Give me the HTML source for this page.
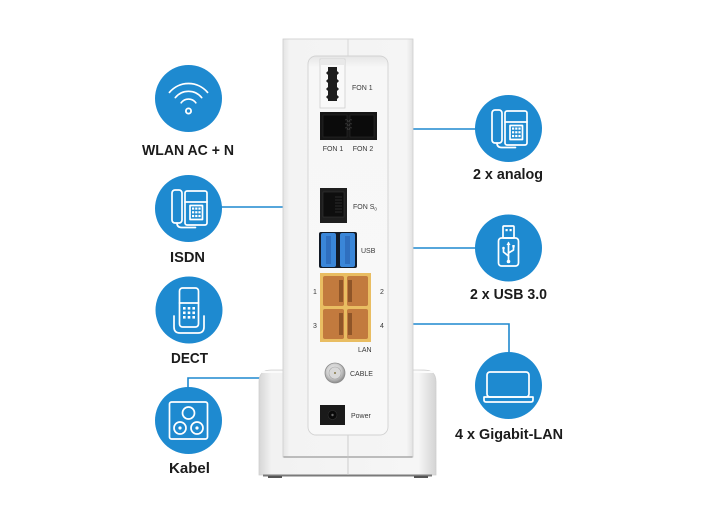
<!DOCTYPE html>
<html>
<head>
<meta charset="utf-8">
<style>
html,body{margin:0;padding:0;background:#fff;}
svg{display:block;}
.lbl{font-family:"Liberation Sans",sans-serif;font-weight:bold;font-size:15px;fill:#1b1b1b;}
.sm{font-family:"Liberation Sans",sans-serif;font-size:7px;fill:#3a3a3a;}
.ic{fill:none;stroke:#fff;stroke-width:1.7;stroke-linecap:round;stroke-linejoin:round;}
</style>
</head>
<body>
<svg width="709" height="516" viewBox="0 0 709 516" xmlns="http://www.w3.org/2000/svg">
<defs>
  <linearGradient id="baseG" x1="0" x2="1" y1="0" y2="0">
    <stop offset="0" stop-color="#d6d6d6"/>
    <stop offset="0.07" stop-color="#f2f2f2"/>
    <stop offset="0.9" stop-color="#f6f6f6"/>
    <stop offset="1" stop-color="#d4d4d4"/>
  </linearGradient>
  <linearGradient id="bodyG" x1="0" x2="1" y1="0" y2="0">
    <stop offset="0" stop-color="#e4e4e4"/>
    <stop offset="0.05" stop-color="#f3f3f3"/>
    <stop offset="0.95" stop-color="#f5f5f5"/>
    <stop offset="1" stop-color="#e2e2e2"/>
  </linearGradient>
  <linearGradient id="panelG" x1="0" x2="0" y1="0" y2="1">
    <stop offset="0" stop-color="#e6e6e6"/>
    <stop offset="0.03" stop-color="#f7f7f7"/>
    <stop offset="1" stop-color="#f8f8f8"/>
  </linearGradient>
  <radialGradient id="coax" cx="0.45" cy="0.4" r="0.6">
    <stop offset="0" stop-color="#f4f4f4"/>
    <stop offset="0.6" stop-color="#cfcfcf"/>
    <stop offset="1" stop-color="#8a8a8a"/>
  </radialGradient>
  <g id="phone">
    <rect class="ic" x="-16.5" y="-18" width="10" height="33" rx="3"/>
    <rect class="ic" x="-3.5" y="-17" width="22" height="34" rx="2"/>
    <line class="ic" x1="-3.5" y1="-6" x2="18.5" y2="-6"/>
    <rect class="ic" x="1.5" y="-2.5" width="12.5" height="14"/>
    <g fill="#fff">
      <rect x="3.5" y="-0.5" width="2.2" height="2.2"/><rect x="6.7" y="-0.5" width="2.2" height="2.2"/><rect x="9.9" y="-0.5" width="2.2" height="2.2"/>
      <rect x="3.5" y="3.2" width="2.2" height="2.2"/><rect x="6.7" y="3.2" width="2.2" height="2.2"/><rect x="9.9" y="3.2" width="2.2" height="2.2"/>
      <rect x="3.5" y="6.9" width="2.2" height="2.2"/><rect x="6.7" y="6.9" width="2.2" height="2.2"/><rect x="9.9" y="6.9" width="2.2" height="2.2"/>
    </g>
    <path class="ic" d="M-11.5,15 Q-11.5,19.5 -7,19.5 L7,19.5"/>
  </g>
</defs>

<!-- connectors -->
<g stroke="#1f88cf" stroke-width="1.6" fill="none">
  <line x1="221" y1="207" x2="284" y2="207"/>
  <line x1="413" y1="129" x2="476" y2="129"/>
  <line x1="413" y1="248" x2="476" y2="248"/>
  <polyline points="413,324 509,324 509,353"/>
  <polyline points="188,388 188,378 264,378"/>
</g>

<!-- base cradle -->
<path d="M259,475 L259,382 Q259,370 271,370 L424,370 Q436,370 436,382 L436,475 Z" fill="url(#baseG)" stroke="#cfcfcf" stroke-width="0.8"/>
<path d="M262,372 L433,372" stroke="#fbfbfb" stroke-width="2"/>
<line x1="263" y1="475.5" x2="432" y2="475.5" stroke="#7a7a7a" stroke-width="2"/>
<rect x="268" y="476" width="14" height="2" fill="#555"/>
<rect x="414" y="476" width="14" height="2" fill="#555"/>

<!-- device body -->
<rect x="283" y="39" width="130" height="418" fill="url(#bodyG)" stroke="#cdcdcd" stroke-width="0.8"/>
<line x1="283.5" y1="457" x2="412.5" y2="457" stroke="#9a9a9a" stroke-width="1.2"/>
<line x1="348" y1="39" x2="348" y2="56" stroke="#d2d2d2" stroke-width="0.8"/>
<line x1="348" y1="435" x2="348" y2="475" stroke="#c4c4c4" stroke-width="0.8"/>

<!-- panel -->
<rect x="308" y="56" width="80" height="379" rx="8" fill="url(#panelG)" stroke="#d2d2d2" stroke-width="0.9"/>

<!-- TAE FON 1 -->
<rect x="320" y="59" width="25" height="49" fill="#f9f9f9" stroke="#cfcfcf" stroke-width="0.8"/>
<rect x="321" y="60" width="23" height="5" fill="#e9e9e9"/>
<path d="M328,67 L337,67 L337,71 L339,73 L337,75 L337,79 L339,81 L337,83 L337,87 L339,89 L337,91 L337,95 L339,97 L337,99 L337,101 L328,101 L328,99 L326,97 L328,95 L328,91 L326,89 L328,87 L328,83 L326,81 L328,79 L328,75 L326,73 L328,71 Z" fill="#1d1d1d"/>
<text class="sm" x="352" y="90">FON 1</text>

<!-- RJ11 pair -->
<rect x="320" y="112" width="57" height="28" fill="#161616"/>
<rect x="323" y="115" width="24" height="22" fill="#0b0b0b" stroke="#2a2a2a" stroke-width="0.6"/>
<rect x="350" y="115" width="24" height="22" fill="#0b0b0b" stroke="#2a2a2a" stroke-width="0.6"/>
<g stroke="#5a5a5a" stroke-width="0.5" fill="none">
  <path d="M345,120 q3,-1 3,2 M345,124 q3,-1 3,2 M345,128 q3,-1 3,2"/>
  <path d="M352,120 q-3,-1 -3,2 M352,124 q-3,-1 -3,2 M352,128 q-3,-1 -3,2"/>
</g>
<text class="sm" x="333" y="151" text-anchor="middle">FON 1</text>
<text class="sm" x="363" y="151" text-anchor="middle">FON 2</text>

<!-- FON S0 -->
<rect x="320" y="188" width="27" height="35" fill="#1e1e1e"/>
<rect x="323" y="192" width="21" height="25" fill="#0e0e0e" stroke="#3a3a3a" stroke-width="0.5"/>
<g stroke="#444" stroke-width="0.5">
  <line x1="335" y1="197" x2="342" y2="197"/><line x1="335" y1="200" x2="342" y2="200"/><line x1="335" y1="203" x2="342" y2="203"/><line x1="335" y1="206" x2="342" y2="206"/><line x1="335" y1="209" x2="342" y2="209"/><line x1="335" y1="212" x2="342" y2="212"/>
</g>
<text class="sm" x="353" y="209">FON S<tspan font-size="4.5" dy="1.5">0</tspan></text>

<!-- USB -->
<rect x="319" y="232" width="38" height="36" rx="2" fill="#121a26"/>
<rect x="321" y="233" width="15" height="34" rx="2" fill="#3a86d8"/>
<rect x="340" y="233" width="15" height="34" rx="2" fill="#3a86d8"/>
<rect x="326" y="236" width="5" height="28" fill="#2f6fbf"/>
<rect x="345" y="236" width="5" height="28" fill="#2f6fbf"/>
<text class="sm" x="361" y="253">USB</text>

<!-- LAN -->
<rect x="320" y="273" width="51" height="69" fill="#e9bd62"/>
<g fill="#c27a3e">
  <rect x="323" y="276" width="21" height="30" rx="2"/>
  <rect x="347" y="276" width="21" height="30" rx="2"/>
  <rect x="323" y="309" width="21" height="30" rx="2"/>
  <rect x="347" y="309" width="21" height="30" rx="2"/>
</g>
<g fill="#8f5528">
  <rect x="339" y="280" width="4" height="22"/>
  <rect x="348" y="280" width="4" height="22"/>
  <rect x="339" y="313" width="4" height="22"/>
  <rect x="348" y="313" width="4" height="22"/>
</g>
<text class="sm" x="313" y="294">1</text>
<text class="sm" x="380" y="294">2</text>
<text class="sm" x="313" y="328">3</text>
<text class="sm" x="380" y="328">4</text>
<text class="sm" x="358" y="352">LAN</text>

<!-- CABLE -->
<circle cx="335" cy="373" r="10" fill="url(#coax)" stroke="#8c8c8c" stroke-width="0.8"/>
<circle cx="335" cy="373" r="6" fill="#d9d9d9" stroke="#a5a5a5" stroke-width="0.6"/>
<circle cx="335" cy="373" r="1" fill="#8a7a4a"/>
<text class="sm" x="350" y="376">CABLE</text>

<!-- Power -->
<rect x="320" y="405" width="25" height="20" fill="#1a1a1a"/>
<circle cx="332.5" cy="415" r="4.5" fill="#0a0a0a" stroke="#333" stroke-width="0.6"/>
<circle cx="332.5" cy="415" r="1.2" fill="#666"/>
<text class="sm" x="351" y="418">Power</text>

<!-- circles -->
<g fill="#1e8ad0">
  <circle cx="188.5" cy="98.5" r="33.5"/>
  <circle cx="188.5" cy="208.5" r="33.5"/>
  <circle cx="189" cy="310" r="33.5"/>
  <circle cx="188.5" cy="420.5" r="33.5"/>
  <circle cx="508.5" cy="128.5" r="33.5"/>
  <circle cx="508.5" cy="248" r="33.5"/>
  <circle cx="508.5" cy="385.5" r="33.5"/>
</g>

<!-- WLAN icon -->
<g class="ic" stroke-width="2.2">
  <path d="M181.2,102.8 A9,9 0 0 1 195.8,102.8"/>
  <path d="M175.3,97.6 A17,17 0 0 1 201.7,97.6"/>
  <path d="M169.4,92.4 A25,25 0 0 1 207.6,92.4"/>
</g>
<circle cx="188.5" cy="111" r="2.6" fill="none" stroke="#fff" stroke-width="1.8"/>

<!-- ISDN & analog phones -->
<use href="#phone" x="188.5" y="208"/>
<use href="#phone" x="508.5" y="128"/>

<!-- DECT icon -->
<g>
  <rect class="ic" x="179.5" y="288" width="19" height="39" rx="3"/>
  <line class="ic" x1="179.5" y1="303" x2="198.5" y2="303"/>
  <path class="ic" d="M174,316 L174,327 Q174,333 180,333 L198,333 Q204,333 204,327 L204,316"/>
  <g fill="#fff">
    <rect x="183" y="307" width="2.6" height="2.6"/><rect x="187.7" y="307" width="2.6" height="2.6"/><rect x="192.4" y="307" width="2.6" height="2.6"/>
    <rect x="183" y="311.5" width="2.6" height="2.6"/><rect x="187.7" y="311.5" width="2.6" height="2.6"/><rect x="192.4" y="311.5" width="2.6" height="2.6"/>
    <rect x="183" y="316" width="2.6" height="2.6"/><rect x="187.7" y="316" width="2.6" height="2.6"/><rect x="192.4" y="316" width="2.6" height="2.6"/>
  </g>
</g>

<!-- Kabel icon -->
<g>
  <rect class="ic" x="169.5" y="402" width="38" height="37" rx="2"/>
  <circle class="ic" cx="188.5" cy="413" r="6"/>
  <circle class="ic" cx="180" cy="428" r="6"/>
  <circle class="ic" cx="197" cy="428" r="6"/>
  <circle cx="180" cy="428" r="1.6" fill="#fff"/>
  <circle cx="197" cy="428" r="1.6" fill="#fff"/>
</g>

<!-- USB icon -->
<g>
  <rect class="ic" x="503" y="226" width="11" height="12" rx="1"/>
  <rect x="505.5" y="229" width="2.2" height="2.2" fill="#fff"/>
  <rect x="509.5" y="229" width="2.2" height="2.2" fill="#fff"/>
  <rect class="ic" x="498.5" y="238" width="20" height="28" rx="3"/>
  <g class="ic" stroke-width="1.3">
    <line x1="508.5" y1="243" x2="508.5" y2="261"/>
    <path d="M508.5,256 L503.5,252 L503.5,249"/>
    <path d="M508.5,253 L513.5,250 L513.5,247"/>
  </g>
  <path d="M506.5,245 L508.5,241.5 L510.5,245 Z" fill="#fff"/>
  <circle cx="508.5" cy="261.5" r="1.8" fill="#fff"/>
  <circle cx="503.5" cy="248" r="1.3" fill="#fff"/>
  <rect x="512.3" y="245" width="2.4" height="2.4" fill="#fff"/>
</g>

<!-- Laptop icon -->
<g>
  <rect class="ic" x="487" y="372" width="42" height="25" rx="3"/>
  <path class="ic" d="M484,397 L533,397 L533,400 Q533,402 531,402 L486,402 Q484,402 484,400 Z"/>
</g>

<!-- labels -->
<text class="lbl" x="142" y="155" textLength="92" lengthAdjust="spacingAndGlyphs">WLAN AC + N</text>
<text class="lbl" x="170" y="262" textLength="35" lengthAdjust="spacingAndGlyphs">ISDN</text>
<text class="lbl" x="171" y="363" textLength="37" lengthAdjust="spacingAndGlyphs">DECT</text>
<text class="lbl" x="169" y="473" textLength="41" lengthAdjust="spacingAndGlyphs">Kabel</text>
<text class="lbl" x="473" y="179" textLength="70" lengthAdjust="spacingAndGlyphs">2 x analog</text>
<text class="lbl" x="470" y="299" textLength="77" lengthAdjust="spacingAndGlyphs">2 x USB 3.0</text>
<text class="lbl" x="455" y="439" textLength="108" lengthAdjust="spacingAndGlyphs">4 x Gigabit-LAN</text>
</svg>
</body>
</html>
